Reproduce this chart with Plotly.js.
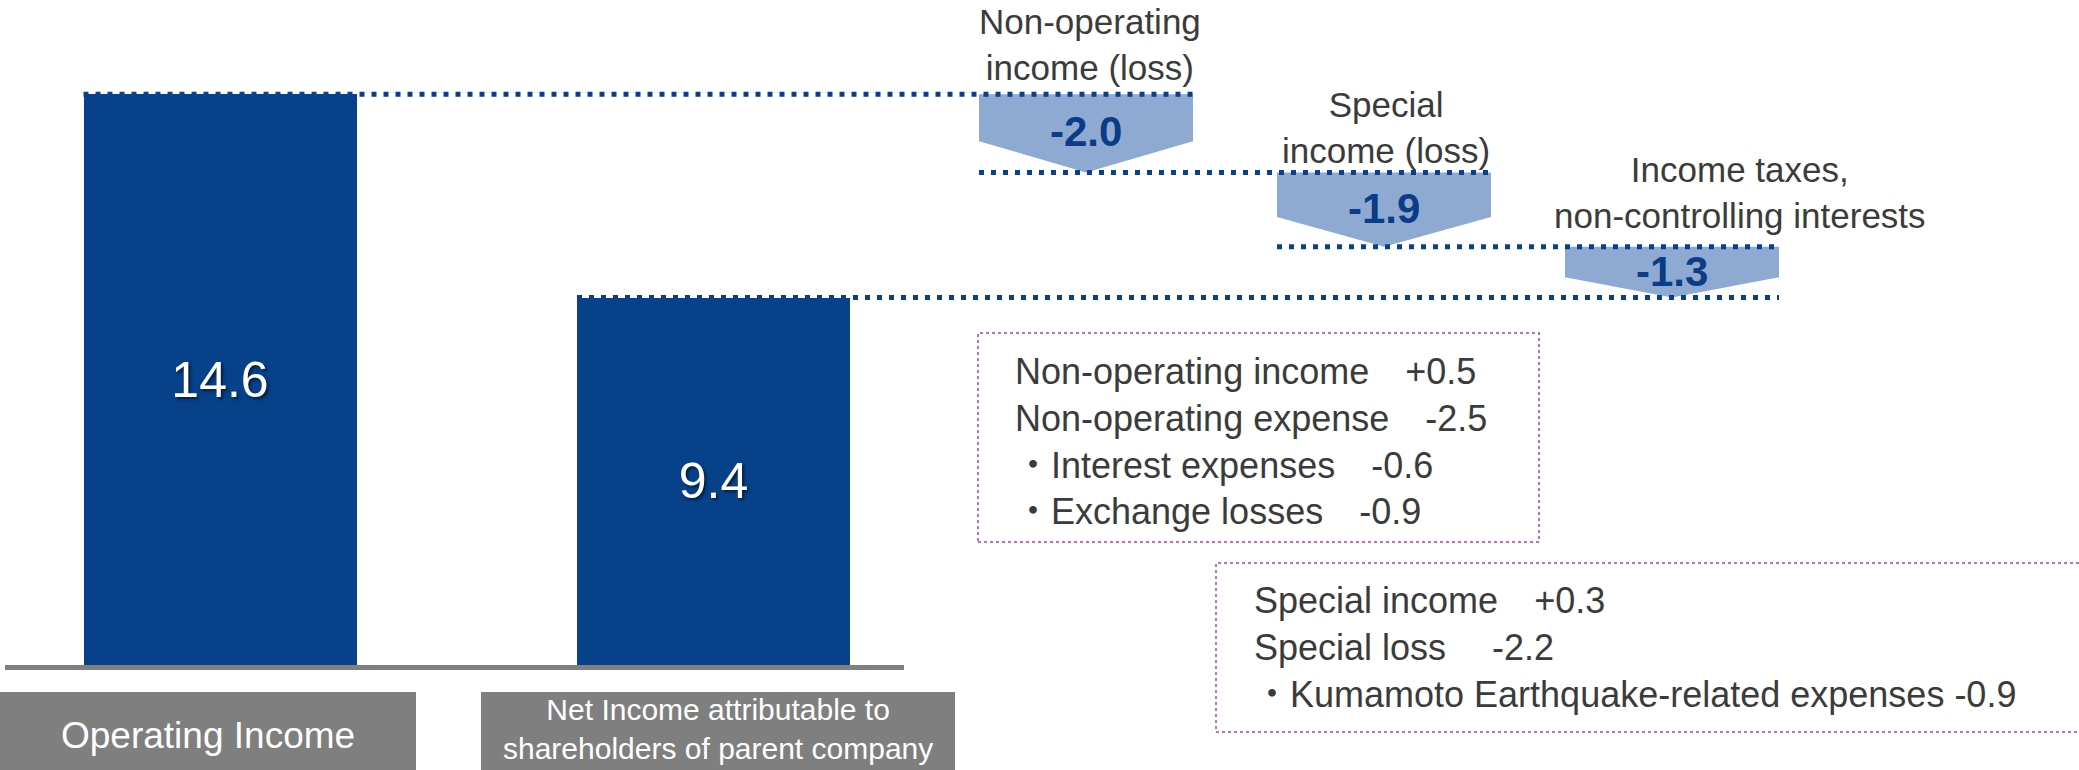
<!DOCTYPE html>
<html>
<head>
<meta charset="utf-8">
<script src="https://cdn.plot.ly/plotly-3.0.1.min.js"></script>
<style>html,body{margin:0;padding:0;background:#fff;}#chart{width:2079px;height:770px;}</style>
</head>
<body>
<div id="chart"></div>
<script>
// ---------------- DATA ----------------
const categories = ['Operating Income', 'Net Income attributable to<br>shareholders of parent company'];
const totals = [14.6, 9.4];
const stepLabels = ['Non-operating<br>income (loss)', 'Special<br>income (loss)', 'Income taxes,<br>non-controlling interests'];
const stepValues = [-2.0, -1.9, -1.3];
const box1Lines = ['Non-operating income\u3000+0.5', 'Non-operating expense\u3000-2.5', '\u30FBInterest expenses\u3000-0.6', '\u30FBExchange losses\u3000-0.9'];
const box2Lines = ['Special income\u3000+0.3', 'Special loss\u3000 -2.2', '\u30FBKumamoto Earthquake-related expenses -0.9'];

// ---------------- LAYOUT CONSTANTS ----------------
const W = 2079, H = 770;
const BASE_PX = 665, PX_PER_UNIT = 39.09;
const yTop = BASE_PX / PX_PER_UNIT, yBottom = -(H - BASE_PX) / PX_PER_UNIT;
const py = px => 1 - px / H;
const FONT = 'Liberation Sans, Arial, Noto Sans CJK JP, sans-serif';
const BAR_COLOR = '#07418a', ARROW_COLOR = '#8eaad2', DOT_COLOR = '#0a3f8c', TEXT_COLOR = '#3b3b3b';
const barCenters = [220, 713.5], barWidth = 273;
const arrowCenters = [1086, 1384, 1672], arrowHalf = 107, shoulderFrac = 0.6, labelFrac = 0.48;
const stepLabelPos = [{x: 1090, top: 0}, {x: 1386, top: 83}, {x: 1740, top: 148}];
const catBoxes = [{x0: 0, x1: 416, cx: 208, top: 713, size: 37}, {x0: 481, x1: 955, cx: 718, top: 691, size: 30}];
const noteBoxes = [
  {x0: 978, x1: 1539, y0: 333, y1: 542, left: 1013, top: 349, lines: box1Lines},
  {x0: 1216, x1: 2100, y0: 563, y1: 732, left: 1252, top: 578, lines: box2Lines}
];

// running totals
const starts = [], ends = [];
let level = totals[0];
stepValues.forEach(v => { starts.push(level); level = +(level + v).toFixed(1); ends.push(level); });

const traces = [];
// bars
traces.push({
  type: 'bar', x: barCenters, y: totals, width: [barWidth, barWidth],
  marker: {color: BAR_COLOR, line: {width: 0}},
  text: totals.map(v => v.toFixed(1)), textposition: 'inside', insidetextanchor: 'middle',
  textangle: 0, constraintext: 'none',
  textfont: {family: FONT, size: 50, color: '#ffffff', shadow: '2px 2px 3px rgba(0,0,0,0.55)'},
  hoverinfo: 'skip', showlegend: false
});
// arrows
stepValues.forEach((v, i) => {
  const c = arrowCenters[i], s = starts[i], e = ends[i], m = s + v * shoulderFrac;
  traces.push({
    type: 'scatter', mode: 'lines', fill: 'toself', fillcolor: ARROW_COLOR,
    x: [c - arrowHalf, c + arrowHalf, c + arrowHalf, c, c - arrowHalf, c - arrowHalf],
    y: [s, s, m, e, m, s],
    line: {width: 0, color: ARROW_COLOR}, hoverinfo: 'skip', showlegend: false
  });
});
// dotted connector lines
const connectors = [
  {x0: barCenters[0] - barWidth / 2, x1: arrowCenters[0] + arrowHalf, y: starts[0]},
  {x0: arrowCenters[0] - arrowHalf, x1: arrowCenters[1] + arrowHalf, y: starts[1]},
  {x0: arrowCenters[1] - arrowHalf, x1: arrowCenters[2] + arrowHalf, y: starts[2]},
  {x0: barCenters[1] - barWidth / 2, x1: arrowCenters[2] + arrowHalf, y: totals[1]}
];
connectors.forEach(cn => {
  traces.push({
    type: 'scatter', mode: 'lines', x: [cn.x0, cn.x1], y: [cn.y, cn.y],
    line: {color: DOT_COLOR, width: 5, dash: '5px,7px'}, hoverinfo: 'skip', showlegend: false
  });
});

const annotations = [];
// arrow value labels
stepValues.forEach((v, i) => {
  annotations.push({
    x: arrowCenters[i], y: starts[i] + v * labelFrac, xref: 'x', yref: 'y',
    text: v.toFixed(1), showarrow: false, xanchor: 'center', yanchor: 'middle',
    font: {family: FONT, size: 42, color: '#0b3c88', weight: 'bold'}
  });
});
// step labels
stepLabels.forEach((t, i) => {
  annotations.push({
    x: stepLabelPos[i].x, y: py(stepLabelPos[i].top), xref: 'x', yref: 'paper',
    text: t, showarrow: false, xanchor: 'center', yanchor: 'top', align: 'center',
    font: {family: FONT, size: 35, color: TEXT_COLOR}
  });
});
// note boxes text
noteBoxes.forEach(b => {
  annotations.push({
    x: b.left, y: py(b.top), xref: 'x', yref: 'paper',
    text: b.lines.join('<br>'), showarrow: false, xanchor: 'left', yanchor: 'top', align: 'left',
    font: {family: FONT, size: 36, color: TEXT_COLOR}
  });
});
// category labels
categories.forEach((t, i) => {
  const cb = catBoxes[i];
  annotations.push({
    x: cb.cx, y: py(cb.top), xref: 'x', yref: 'paper',
    text: t, showarrow: false, xanchor: 'center', yanchor: 'top', align: 'center',
    font: {family: FONT, size: cb.size, color: '#ffffff'}
  });
});

const shapes = [];
// baseline
shapes.push({type: 'rect', xref: 'x', yref: 'paper', x0: 5, x1: 904, y0: py(670), y1: py(665),
  fillcolor: '#808080', line: {width: 0}, layer: 'above'});
// category boxes
catBoxes.forEach(cb => shapes.push({type: 'rect', xref: 'x', yref: 'paper', x0: cb.x0, x1: cb.x1,
  y0: py(H), y1: py(692), fillcolor: '#7f7f7f', line: {width: 0}, layer: 'below'}));
// note boxes
noteBoxes.forEach(b => shapes.push({type: 'rect', xref: 'x', yref: 'paper', x0: b.x0, x1: b.x1,
  y0: py(b.y1), y1: py(b.y0), fillcolor: 'rgba(0,0,0,0)', line: {color: '#a544a5', width: 1.5, dash: 'dot'}}));

const layout = {
  width: W, height: H, margin: {l: 0, r: 0, t: 0, b: 0, pad: 0},
  paper_bgcolor: '#ffffff', plot_bgcolor: '#ffffff',
  xaxis: {range: [0, W], visible: false, fixedrange: true},
  yaxis: {range: [yBottom, yTop], visible: false, fixedrange: true},
  showlegend: false, bargap: 0,
  annotations: annotations, shapes: shapes,
  font: {family: FONT}
};
Plotly.newPlot('chart', traces, layout, {staticPlot: true, displayModeBar: false});
</script>
</body>
</html>
